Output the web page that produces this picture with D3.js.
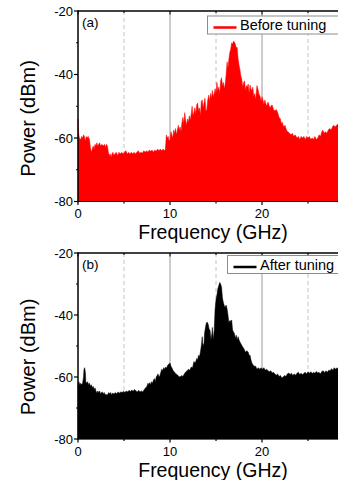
<!DOCTYPE html>
<html>
<head>
<meta charset="utf-8">
<script src="https://cdn.jsdelivr.net/npm/d3@7"></script>
<style>
  html, body { margin: 0; padding: 0; background: #fff; }
  svg { display: block; font-family: "Liberation Sans", Arial, sans-serif; }
</style>
</head>
<body>
<svg id="chart" width="338" height="480"></svg>
<script>
// spectrum envelope before tuning: [GHz, dBm]
const spectrumBefore = [
  [0.00, -54], [0.05, -58], [0.15, -60], [0.3, -60.5], [0.4, -59.5], [0.5, -60], [0.6, -59], [0.7, -59.5],
  [0.8, -61], [0.9, -59.5], [1.0, -60], [1.1, -59.5], [1.25, -60.5], [1.35, -63], [1.45, -64.5], [1.55, -63.5],
  [1.65, -62.5], [1.75, -63.5], [1.85, -62], [1.95, -62.5], [2.05, -61.5], [2.15, -62.5], [2.25, -62], [2.35, -61.5],
  [2.45, -62.5], [2.6, -62], [2.75, -62.5], [2.9, -62], [3.0, -63], [3.1, -62], [3.2, -62.5], [3.3, -64.5],
  [3.4, -65.5], [3.5, -65], [3.6, -66], [3.7, -65], [3.8, -64.5], [3.9, -65.5], [4.0, -65], [4.15, -64.5],
  [4.3, -65.5], [4.45, -64.5], [4.6, -65], [4.75, -64.5], [4.9, -65], [5.05, -64.5], [5.2, -64], [5.35, -65],
  [5.5, -64.5], [5.65, -65], [5.8, -64.5], [5.95, -65], [6.1, -64.5], [6.25, -65], [6.4, -64.5], [6.55, -64],
  [6.7, -64.8], [6.85, -64.5], [7.0, -64.8], [7.15, -64], [7.3, -64.5], [7.45, -64], [7.6, -64.5], [7.75, -63.8],
  [7.9, -64.2], [8.05, -63.8], [8.2, -64.5], [8.35, -63.8], [8.5, -64.2], [8.65, -63.5], [8.8, -64], [8.95, -63.5],
  [9.1, -64], [9.25, -63.5], [9.4, -64], [9.5, -63.5], [9.6, -59], [9.7, -60], [9.8, -59.5], [9.9, -61],
  [10.0, -60.5], [10.1, -58], [10.2, -59], [10.3, -60], [10.4, -57.5], [10.5, -58.5], [10.6, -57], [10.7, -59],
  [10.8, -57.5], [10.9, -56], [11.0, -57.5], [11.1, -56.5], [11.2, -58], [11.3, -55], [11.4, -53.5], [11.5, -55.5],
  [11.6, -52], [11.7, -54.5], [11.8, -56], [11.9, -54], [12.0, -55], [12.1, -53], [12.2, -54.5], [12.3, -52.5],
  [12.4, -50], [12.5, -53], [12.6, -52], [12.7, -50.5], [12.8, -52.5], [12.9, -49.5], [13.0, -49], [13.1, -51.5],
  [13.2, -50.5], [13.3, -53], [13.4, -48.5], [13.5, -48], [13.6, -50.5], [13.7, -49], [13.8, -47.5], [13.9, -51.5],
  [14.0, -51], [14.1, -48], [14.2, -46.5], [14.3, -48.5], [14.4, -46], [14.5, -47.5], [14.6, -45], [14.7, -47],
  [14.8, -46], [14.9, -44.5], [15.0, -46], [15.1, -42.5], [15.2, -45], [15.3, -44], [15.4, -46], [15.5, -42],
  [15.6, -41], [15.7, -43.5], [15.8, -42.5], [15.9, -44.5], [16.0, -43], [16.1, -40], [16.2, -36], [16.3, -38],
  [16.4, -35], [16.5, -33], [16.6, -32], [16.7, -30], [16.8, -30.5], [16.9, -29.5], [17.0, -29.8], [17.1, -30.5],
  [17.2, -31.5], [17.3, -31.5], [17.4, -35], [17.5, -37], [17.6, -38.5], [17.7, -40.5], [17.8, -41.5], [17.9, -44],
  [18.0, -42.5], [18.1, -42], [18.2, -45], [18.3, -43.5], [18.4, -44], [18.5, -43], [18.6, -46], [18.7, -43.3],
  [18.8, -44.5], [18.9, -45], [19.0, -44], [19.1, -47], [19.2, -46], [19.3, -48], [19.45, -43.5], [19.55, -44.5],
  [19.65, -46], [19.8, -47], [19.9, -48.5], [20.0, -47], [20.1, -48], [20.2, -49.5], [20.3, -48], [20.4, -49],
  [20.5, -50], [20.65, -48.7], [20.8, -50], [20.9, -50.5], [21.0, -49.8], [21.1, -49.6], [21.25, -51], [21.4, -51.5],
  [21.55, -51], [21.7, -52], [21.85, -53.5], [22.0, -54], [22.1, -55.5], [22.2, -55], [22.35, -56.5], [22.5, -56],
  [22.65, -57.5], [22.8, -58], [23.0, -58.5], [23.15, -59], [23.3, -58.5], [23.45, -59.5], [23.6, -59], [23.8, -60],
  [23.95, -59.5], [24.1, -60.5], [24.25, -59.5], [24.4, -60], [24.55, -59.5], [24.7, -60.5], [24.85, -59.5], [25.0, -60],
  [25.15, -59.5], [25.3, -60.5], [25.45, -60], [25.6, -60.5], [25.75, -59.5], [25.9, -60.5], [26.05, -60], [26.2, -59],
  [26.35, -59.5], [26.5, -58], [26.6, -57.5], [26.75, -58.5], [26.9, -58], [27.05, -58.5], [27.2, -57.5], [27.35, -57],
  [27.5, -57.5], [27.65, -56.5], [27.8, -56], [27.95, -56.5], [28.1, -56], [28.3, -55.5]
];

// spectrum envelope after tuning: [GHz, dBm]
const spectrumAfter = [
  [0.0, -62], [0.1, -61.5], [0.2, -62.5], [0.3, -62], [0.4, -62.5], [0.5, -62], [0.6, -60], [0.65, -57.5],
  [0.72, -57], [0.8, -58.5], [0.85, -61.5], [0.95, -62], [1.05, -61.5], [1.15, -62.5], [1.25, -62], [1.35, -63],
  [1.45, -62.5], [1.55, -63.5], [1.65, -63], [1.75, -64], [1.85, -63.5], [1.95, -64.5], [2.05, -65.2], [2.15, -64.5],
  [2.25, -65], [2.35, -64.5], [2.45, -65.5], [2.55, -65], [2.65, -64.8], [2.75, -65.5], [2.85, -65], [2.95, -65.8],
  [3.05, -65.5], [3.15, -66], [3.25, -65.5], [3.35, -65], [3.45, -65.5], [3.55, -65], [3.65, -65.8], [3.75, -65.2],
  [3.9, -65.5], [4.05, -65], [4.2, -65.5], [4.35, -64.8], [4.5, -65.2], [4.65, -64.8], [4.8, -65], [4.95, -64.6],
  [5.1, -65], [5.25, -64.5], [5.4, -64.8], [5.55, -64.3], [5.7, -64.7], [5.85, -64.2], [6.0, -64.6], [6.15, -64],
  [6.3, -64.5], [6.45, -64.8], [6.6, -64.3], [6.75, -64.8], [6.9, -64.5], [7.05, -64.8], [7.2, -64], [7.35, -63.5],
  [7.5, -63], [7.6, -62], [7.7, -62.5], [7.8, -61.8], [7.9, -62.5], [8.0, -61.5], [8.1, -62], [8.2, -61],
  [8.3, -60.5], [8.4, -61.5], [8.5, -60], [8.6, -59.5], [8.7, -59], [8.8, -60], [8.9, -59.5], [9.0, -58.5],
  [9.1, -57.5], [9.2, -58], [9.3, -57], [9.4, -57.5], [9.5, -56.8], [9.6, -57.2], [9.7, -56.5], [9.8, -56],
  [9.9, -55.8], [10.0, -55.5], [10.1, -56.5], [10.2, -57], [10.35, -58], [10.5, -58.5], [10.65, -59], [10.8, -59.3],
  [10.95, -59.8], [11.1, -60], [11.25, -59.5], [11.4, -59.8], [11.55, -59], [11.7, -58.4], [11.85, -58], [12.0, -57.5],
  [12.15, -57.8], [12.3, -56.8], [12.45, -57], [12.6, -55], [12.75, -55.5], [12.9, -54], [13.0, -54.5], [13.1, -53],
  [13.2, -53.5], [13.3, -52], [13.4, -50], [13.5, -47], [13.55, -49], [13.6, -50], [13.7, -49], [13.75, -46],
  [13.85, -44], [13.95, -42.5], [14.05, -42.3], [14.15, -43], [14.25, -44.5], [14.35, -45], [14.45, -48], [14.55, -46],
  [14.6, -44], [14.7, -48], [14.8, -45], [14.9, -38], [15.0, -35], [15.1, -33.5], [15.2, -31.5], [15.3, -30.5],
  [15.4, -29.5], [15.5, -30], [15.6, -31], [15.7, -34.5], [15.8, -36], [15.9, -37], [16.0, -37.5], [16.1, -36.8],
  [16.2, -38], [16.3, -40], [16.4, -42.6], [16.5, -41.8], [16.6, -42], [16.7, -41.6], [16.8, -44.8], [16.9, -45.5],
  [17.0, -46], [17.1, -47.5], [17.2, -46.5], [17.3, -48], [17.4, -47], [17.5, -48], [17.6, -48.7], [17.75, -49.5],
  [17.9, -50.3], [18.05, -51], [18.2, -52], [18.35, -51.5], [18.5, -52], [18.6, -53], [18.7, -53], [18.8, -54.5],
  [18.9, -55.5], [19.0, -56], [19.15, -56.5], [19.3, -56.5], [19.45, -57.5], [19.6, -57], [19.75, -57.5], [19.9, -57],
  [20.05, -57.5], [20.2, -57], [20.35, -57.8], [20.5, -57.5], [20.65, -58], [20.8, -58.3], [20.95, -58], [21.1, -58.7],
  [21.25, -58.5], [21.4, -59], [21.55, -59.4], [21.7, -59], [21.85, -59.8], [22.0, -59.5], [22.15, -60.3], [22.3, -60],
  [22.45, -59.5], [22.6, -59.8], [22.75, -59], [22.9, -58.7], [23.05, -59.2], [23.2, -58.8], [23.35, -59.5], [23.5, -59],
  [23.65, -59.4], [23.8, -58.8], [23.95, -58.5], [24.1, -59.2], [24.25, -58.8], [24.4, -59.3], [24.55, -58.8], [24.7, -58.5],
  [24.85, -59], [25.0, -58.3], [25.15, -58.8], [25.3, -58.3], [25.45, -58.9], [25.6, -58.5], [25.75, -58.8], [25.9, -58.2],
  [26.05, -58.7], [26.2, -58.5], [26.35, -59], [26.5, -58.2], [26.65, -58], [26.8, -58.6], [26.95, -58], [27.1, -58.5],
  [27.25, -57.8], [27.4, -58], [27.55, -57.3], [27.7, -57.8], [27.85, -57], [28.0, -57.5], [28.15, -57], [28.3, -57.5]
];

const yTicks = [-20, -40, -60, -80];
const yMinor = [-30, -50, -70];
const xTicks = [0, 10, 20];
const xTickMarks = [0, 5, 10, 15, 20, 25];
const solidGrid = [10, 20];
const dashGrid = [5, 15, 25];

const svg = d3.select('#chart');

function drawPanel(opt) {
  const x = d3.scaleLinear().domain([0, 28.3]).range([78, 338.4]);
  const y = d3.scaleLinear().domain([-80, -20]).range([opt.bottom, opt.top]);
  const g = svg.append('g');

  // grid
  g.selectAll('.gs').data(solidGrid).enter().append('line')
    .attr('x1', d => x(d)).attr('x2', d => x(d))
    .attr('y1', opt.top).attr('y2', opt.bottom)
    .attr('stroke', '#9a9a9a').attr('stroke-width', 1);
  g.selectAll('.gd').data(dashGrid).enter().append('line')
    .attr('x1', d => x(d)).attr('x2', d => x(d))
    .attr('y1', opt.top).attr('y2', opt.bottom)
    .attr('stroke', '#c4c4c4').attr('stroke-width', 1)
    .attr('stroke-dasharray', '4,3');

  // spectrum, filled down to the noise floor
  const area = d3.area()
    .x(d => x(d[0]))
    .y0(y(-80))
    .y1(d => y(d[1]));
  g.append('path').datum(opt.data)
    .attr('d', area)
    .attr('fill', opt.color)
    .attr('stroke', opt.color)
    .attr('stroke-width', 0.5)
    .attr('stroke-linejoin', 'miter');

  // frame
  g.append('line').attr('x1', 78).attr('x2', 338).attr('y1', opt.top).attr('y2', opt.top)
    .attr('stroke', '#000').attr('stroke-width', 1.5);
  g.append('line').attr('x1', 78).attr('x2', 338).attr('y1', opt.bottom).attr('y2', opt.bottom)
    .attr('stroke', '#000').attr('stroke-width', 1.2);
  g.append('line').attr('x1', 78).attr('x2', 78).attr('y1', opt.top - 0.7).attr('y2', opt.bottom + 0.7)
    .attr('stroke', '#000').attr('stroke-width', 1.5);

  // y axis ticks
  g.selectAll('.ytm').data(yTicks).enter().append('line')
    .attr('x1', 74).attr('x2', 78)
    .attr('y1', d => y(d)).attr('y2', d => y(d))
    .attr('stroke', '#000').attr('stroke-width', 1.2);
  g.selectAll('.ytn').data(yMinor).enter().append('line')
    .attr('x1', 76).attr('x2', 78)
    .attr('y1', d => y(d)).attr('y2', d => y(d))
    .attr('stroke', '#000').attr('stroke-width', 1.2);
  g.selectAll('.ytl').data(yTicks).enter().append('text')
    .attr('x', 73).attr('y', d => y(d)).attr('dy', '0.36em')
    .attr('text-anchor', 'end').attr('font-size', 13)
    .text(d => d);

  // x axis ticks (bottom and top)
  g.selectAll('.xtb').data(xTickMarks).enter().append('line')
    .attr('x1', d => x(d)).attr('x2', d => x(d))
    .attr('y1', opt.bottom).attr('y2', d => opt.bottom + (d % 10 === 0 ? 3.5 : 2))
    .attr('stroke', '#000').attr('stroke-width', 1.2);
  g.selectAll('.xtt').data(xTickMarks).enter().append('line')
    .attr('x1', d => x(d)).attr('x2', d => x(d))
    .attr('y1', opt.top).attr('y2', d => opt.top + (d % 10 === 0 ? 3.5 : 2))
    .attr('stroke', '#000').attr('stroke-width', 1);
  g.selectAll('.xtl').data(xTicks).enter().append('text')
    .attr('x', d => x(d)).attr('y', opt.bottom + 16.5)
    .attr('text-anchor', 'middle').attr('font-size', 13)
    .text(d => d);

  // axis titles
  g.append('text')
    .attr('x', 213).attr('y', opt.bottom + 37.5)
    .attr('text-anchor', 'middle').attr('font-size', 19.5)
    .text('Frequency (GHz)');
  g.append('text')
    .attr('transform', `translate(34.5,${opt.labelY}) rotate(-90)`)
    .attr('text-anchor', 'middle').attr('font-size', 20)
    .text('Power (dBm)');

  // panel tag
  g.append('text')
    .attr('x', 82).attr('y', opt.top + 15.5)
    .attr('font-size', 13.5)
    .text(opt.tag);

  // legend
  const lg = g.append('g');
  lg.append('rect')
    .attr('x', opt.legX).attr('y', opt.legY)
    .attr('width', 345 - opt.legX).attr('height', 18)
    .attr('fill', '#fff').attr('stroke', '#8c8c8c').attr('stroke-width', 1);
  lg.append('line')
    .attr('x1', opt.legX + 6).attr('x2', opt.legX + 29)
    .attr('y1', opt.legY + 11.5).attr('y2', opt.legY + 11.5)
    .attr('stroke', opt.color).attr('stroke-width', 2.5);
  lg.append('text')
    .attr('x', opt.legX + 32.5).attr('y', opt.legY + 14)
    .attr('font-size', 14.5)
    .text(opt.legend);
}

drawPanel({
  top: 11, bottom: 201.5, labelY: 118.5,
  data: spectrumBefore, color: '#ff0000',
  tag: '(a)', legend: 'Before tuning', legX: 207.5, legY: 16
});
drawPanel({
  top: 253, bottom: 439, labelY: 357,
  data: spectrumAfter, color: '#000000',
  tag: '(b)', legend: 'After tuning', legX: 227.5, legY: 255.5
});
</script>
</body>
</html>
